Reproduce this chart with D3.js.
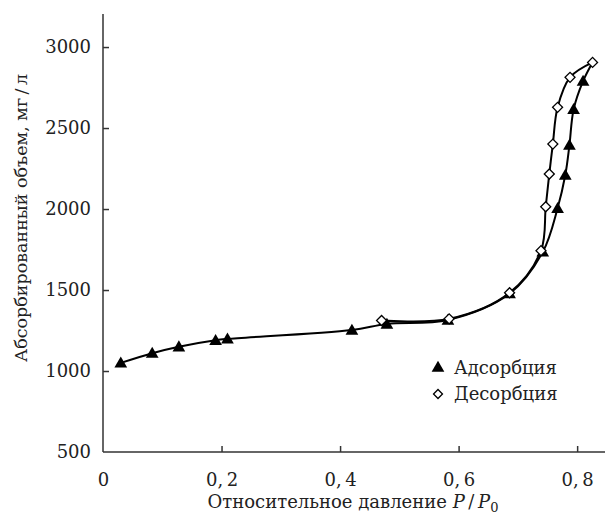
<!DOCTYPE html>
<html>
<head>
<meta charset="utf-8">
<script src="https://cdn.jsdelivr.net/npm/d3@7"></script>
<style>
body { margin: 0; background: #fff; }
text { font-family: "DejaVu Serif", serif; fill: #222; }
</style>
</head>
<body>
<svg id="chart" width="605" height="517"></svg>
<script>
// adsorption / desorption isotherm
var adsX = [0.030, 0.083, 0.128, 0.190, 0.210, 0.420, 0.479, 0.582, 0.686, 0.742, 0.767, 0.780, 0.787, 0.794, 0.810, 0.826];
var adsY = [1050, 1110, 1150, 1190, 1198, 1253, 1290, 1315, 1478, 1735, 2005, 2210, 2395, 2615, 2790, 2905];
var desX = [0.826, 0.788, 0.767, 0.759, 0.753, 0.747, 0.739, 0.686, 0.584, 0.470];
var desY = [2905, 2813, 2628, 2401, 2216, 2014, 1743, 1483, 1322, 1312];
var xTicks = [0, 0.2, 0.4, 0.6, 0.8];
var yTicks = [500, 1000, 1500, 2000, 2500, 3000];
var legendNames = ["Адсорбция", "Десорбция"];

var svg = d3.select("#chart"),
    mLeft = 103, mTop = 14, mRight = 605, mBottom = 452;

var x = d3.scaleLinear().domain([0, 0.847]).range([mLeft, mRight]);
var y = d3.scaleLinear().domain([500, 3204]).range([mBottom, mTop]);

function fmt(d) { return String(d).replace(".", ",\u2009"); }

// axes, ticks pointing inwards
var gx = svg.append("g").attr("transform", "translate(0," + mBottom + ")")
    .call(d3.axisBottom(x).tickValues(xTicks).tickSize(-6).tickPadding(21).tickFormat(fmt));
var gy = svg.append("g").attr("transform", "translate(" + mLeft + ",0)")
    .call(d3.axisLeft(y).tickValues(yTicks).tickSize(-6).tickPadding(12).tickFormat(d3.format("d")));
gx.select(".domain").attr("d", "M" + mLeft + ",0H" + mRight);
gy.select(".domain").attr("d", "M0," + mTop + "V" + mBottom);
[gx, gy].forEach(function(g) {
    g.selectAll(".domain, .tick line").attr("stroke", "#333").attr("stroke-width", 1.5);
    g.selectAll("text").style("font-size", "18px").style("font-family", "DejaVu Serif").attr("fill", "#222");
});
gx.selectAll(".tick").filter(function(d) { return d === 0; }).select("line").remove();
gy.selectAll(".tick").filter(function(d) { return d === 500; }).select("line").remove();

// curves
var line = d3.line().x(function(d) { return x(d[0]); }).y(function(d) { return y(d[1]); })
    .curve(d3.curveCatmullRom.alpha(0.5));
var ads = d3.zip(adsX, adsY), des = d3.zip(desX, desY);

svg.append("path").attr("d", line(ads)).attr("fill", "none").attr("stroke", "#000").attr("stroke-width", 2);
svg.append("path").attr("d", line(des)).attr("fill", "none").attr("stroke", "#000").attr("stroke-width", 2);

var tri = d3.symbol().type(d3.symbolTriangle).size(70);
var dia = d3.symbol().type(d3.symbolSquare).size(50);

svg.selectAll(".ads").data(ads.slice(0, ads.length - 1)).enter().append("path")
    .attr("class", "ads")
    .attr("d", tri)
    .attr("transform", function(d) { return "translate(" + x(d[0]) + "," + (y(d[1]) + 1) + ")"; })
    .attr("fill", "#000");

svg.selectAll(".des").data(des).enter().append("path")
    .attr("class", "des")
    .attr("d", dia)
    .attr("transform", function(d) { return "translate(" + x(d[0]) + "," + y(d[1]) + ") rotate(45)"; })
    .attr("fill", "#fff").attr("stroke", "#000").attr("stroke-width", 1.3);

// legend
var lg = svg.append("g").attr("transform", "translate(438,368)");
lg.append("path").attr("d", tri).attr("fill", "#000");
lg.append("path").attr("d", d3.symbol().type(d3.symbolSquare).size(40))
    .attr("transform", "translate(0,26) rotate(45)")
    .attr("fill", "#fff").attr("stroke", "#000").attr("stroke-width", 1.3);
lg.selectAll("text").data(legendNames).enter().append("text")
    .attr("x", 16).attr("y", function(d, i) { return 6 + i * 26; })
    .style("font-size", "18px").text(function(d) { return d; });

// axis titles
var xt = svg.append("text").attr("x", 353).attr("y", 508).attr("text-anchor", "middle").style("font-size", "18px");
xt.append("tspan").text("Относительное давление ");
xt.append("tspan").style("font-style", "italic").text("P");
xt.append("tspan").text("\u2009/\u2009");
xt.append("tspan").style("font-style", "italic").text("P");
xt.append("tspan").attr("dy", 4).style("font-size", "13px").text("0");

svg.append("text").attr("transform", "translate(27,218) rotate(-90)")
    .attr("text-anchor", "middle").style("font-size", "17.5px")
    .text("Абсорбированный объем, мг\u2009/\u2009л");
</script>
</body>
</html>
